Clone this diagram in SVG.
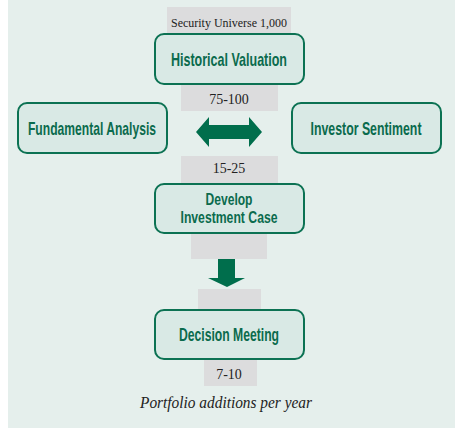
<svg xmlns="http://www.w3.org/2000/svg" width="455" height="428" viewBox="0 0 455 428">
<style>
.bg{fill:#e5efec}
.gray{fill:#dcdcdd}
.box{fill:#d9e9e5;stroke:#0c7253;stroke-width:2}
.t{font-family:"Liberation Sans",Arial,sans-serif;font-weight:bold;font-size:19px;fill:#0b6b4d;text-anchor:middle}
.n{font-family:"Liberation Serif","Times New Roman",serif;font-size:14px;fill:#222;text-anchor:middle}
.arrow{fill:#006e4c}
</style>
<rect class="bg" x="8" y="0" width="447" height="428"/>
<g id="labels">
<rect class="gray" x="167" y="7" width="124" height="27"/>
<text class="n" x="229" y="27" textLength="116" lengthAdjust="spacingAndGlyphs" style="font-size:12.5px">Security Universe 1,000</text>
<rect class="gray" x="181" y="84" width="97" height="27"/>
<text class="n" x="229" y="104">75-100</text>
<rect class="gray" x="181" y="156" width="97" height="28"/>
<text class="n" x="229" y="173">15-25</text>
<rect class="gray" x="191" y="233" width="76" height="26"/>
<rect class="gray" x="198" y="289" width="63" height="21"/>
<rect class="gray" x="204" y="359" width="53" height="27"/>
<text class="n" x="229" y="379">7-10</text>
<text class="n" x="226" y="408" style="font-style:italic;font-size:16px" textLength="172" lengthAdjust="spacingAndGlyphs">Portfolio additions per year</text>
</g>
<g id="connectors">
<polygon class="arrow" points="196,132 209,117 209,125 249,125 249,117 262,132 249,147 249,139 209,139 209,147"/>
<polygon class="arrow" points="218,259 235,259 235,278 245,278 227,287 208,278 218,278"/>
</g>
<g id="historical-valuation">
<rect class="box" x="155" y="34" width="149" height="50" rx="9"/>
<text class="t" transform="scale(0.7,1)" x="327.14" y="66" textLength="165.7" lengthAdjust="spacingAndGlyphs">Historical Valuation</text>
</g>
<g id="fundamental-analysis">
<rect class="box" x="18" y="103" width="149" height="50" rx="9"/>
<text class="t" transform="scale(0.7,1)" x="131.43" y="135" textLength="182.9" lengthAdjust="spacingAndGlyphs">Fundamental Analysis</text>
</g>
<g id="investor-sentiment">
<rect class="box" x="292" y="103" width="149" height="50" rx="9"/>
<text class="t" transform="scale(0.7,1)" x="522.86" y="135" textLength="158.6" lengthAdjust="spacingAndGlyphs">Investor Sentiment</text>
</g>
<g id="develop-investment-case">
<rect class="box" x="155" y="184" width="149" height="49" rx="9"/>
<text class="t" transform="scale(0.7,1)" x="327.14" y="205" style="font-size:16px" textLength="67.1" lengthAdjust="spacingAndGlyphs">Develop</text>
<text class="t" transform="scale(0.7,1)" x="327.14" y="223" style="font-size:16px" textLength="138.6" lengthAdjust="spacingAndGlyphs">Investment Case</text>
</g>
<g id="decision-meeting">
<rect class="box" x="155" y="310" width="149" height="49" rx="9"/>
<text class="t" transform="scale(0.7,1)" x="327.14" y="341" textLength="142.9" lengthAdjust="spacingAndGlyphs">Decision Meeting</text>
</g>
</svg>
